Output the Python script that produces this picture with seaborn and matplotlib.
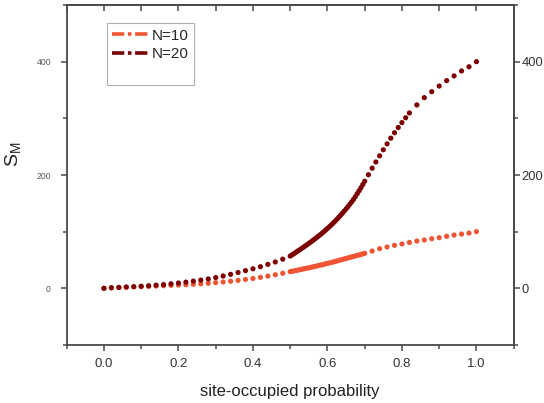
import numpy as np
import pandas as pd
import seaborn as sns
import matplotlib
matplotlib.use("Agg")
import matplotlib.pyplot as plt
from matplotlib.lines import Line2D
from matplotlib.ticker import MultipleLocator, FormatStrFormatter

# ---- data -------------------------------------------------------------
# probability grid: coarse steps, with finer sampling around the transition
p_coarse_low = np.linspace(0.0, 0.5, 26)          # 0.00 .. 0.50, step 0.02
p_fine = np.linspace(0.505, 0.70, 40)             # 0.505 .. 0.700, step 0.005
p10_high = np.linspace(0.72, 1.0, 15)             # 0.72 .. 1.00, step 0.02
p20_mid = np.linspace(0.71, 0.82, 12)             # 0.71 .. 0.82, step 0.01
p20_high = np.linspace(0.84, 1.0, 9)              # 0.84 .. 1.00, step 0.02

s10_low = [0, 1.0, 1.5, 2.0, 2.5, 3.0, 3.5, 4.0, 4.6, 5.2, 5.8, 6.4, 7.2,
           8.0, 8.9, 10.0, 11.2, 12.5, 14.0, 15.6, 17.4, 19.4, 21.6, 24.0,
           26.6, 29.4]
s10_fine = [30.0, 30.7, 31.4, 32.1, 32.8, 33.5, 34.2, 34.9, 35.6, 36.3,
            37.0, 37.7, 38.4, 39.2, 40.0, 40.8, 41.6, 42.4, 43.2, 44.0,
            44.8, 45.6, 46.4, 47.3, 48.2, 49.1, 50.0, 50.9, 51.8, 52.7,
            53.6, 54.5, 55.4, 56.3, 57.2, 58.1, 59.0, 59.9, 60.8, 61.7]
s10_high = [65.8, 70.0, 73.0, 75.9, 78.3, 81.0, 83.5, 85.3, 87.6, 89.4,
            91.8, 94.0, 95.8, 97.5, 100.0]

s20_low = [0, 1.0, 1.6, 2.3, 3.0, 3.8, 4.6, 5.6, 6.7, 8.0, 9.4, 11.0, 12.8,
           14.6, 16.6, 19.0, 21.8, 24.7, 28.0, 31.2, 34.5, 38.2, 42.2, 46.5,
           51.5, 57.0]
s20_fine = [59.1, 61.2, 63.4, 65.6, 67.8, 70.0, 72.3, 74.6, 76.9, 79.3,
            81.7, 84.1, 86.6, 89.1, 91.7, 94.3, 97.0, 99.8, 102.7, 105.6,
            108.6, 111.7, 114.9, 118.2, 121.6, 125.1, 128.7, 132.4, 136.2,
            140.1, 144.1, 148.3, 152.6, 157.0, 161.8, 167.0, 172.2, 177.6,
            183.2, 189.0]
s20_mid = [200.5, 212.0, 223.0, 233.8, 244.5, 255.0, 265.0, 274.6, 283.8,
           292.5, 301.0, 309.5]
s20_high = [323.6, 336.5, 347.0, 357.0, 366.5, 374.8, 383.6, 391.0, 400.0]

series_labels = ["N=10", "N=20"]
series_colors = ["#ef5535", "#7d0000"]

df = pd.concat([
    pd.DataFrame({"p": np.concatenate([p_coarse_low, p_fine, p10_high]),
                  "S": s10_low + s10_fine + s10_high, "N": series_labels[0]}),
    pd.DataFrame({"p": np.concatenate([p_coarse_low, p_fine, p20_mid, p20_high]),
                  "S": s20_low + s20_fine + s20_mid + s20_high, "N": series_labels[1]}),
], ignore_index=True)

# ---- style ------------------------------------------------------------
sns.set_theme(style="white")
plt.rcParams["font.family"] = ["Liberation Sans", "DejaVu Sans"]
plt.rcParams["mathtext.default"] = "regular"

spine_col = "#4a4a4a"

fig = plt.figure(figsize=(5.44, 4.03), dpi=100)
ax = fig.add_axes([0.1226, 0.1439, 0.8217, 0.8437])

sns.scatterplot(data=df, x="p", y="S", hue="N", palette=series_colors,
                s=14, linewidth=0, ax=ax, legend=False, zorder=3)

ax.set_xlim(-0.1, 1.1)
ax.set_ylim(-100, 500)

for sp in ax.spines.values():
    sp.set_color(spine_col)
    sp.set_linewidth(1.3)

ax.xaxis.set_major_locator(MultipleLocator(0.2))
ax.xaxis.set_minor_locator(MultipleLocator(0.1))
ax.yaxis.set_major_locator(MultipleLocator(200))
ax.yaxis.set_minor_locator(MultipleLocator(100))

ax.tick_params(axis="x", which="both", direction="out", bottom=True, top=False,
               color=spine_col, width=1.1, labelsize=9.5, labelcolor="#333333")
ax.tick_params(axis="x", which="major", length=4, pad=5)
ax.tick_params(axis="x", which="minor", length=3)
ax.tick_params(axis="y", which="both", direction="out", left=True, right=False,
               color=spine_col, width=1.1, labelsize=6.2, labelcolor="#555555")
ax.tick_params(axis="y", which="major", length=4.3, pad=7)
ax.tick_params(axis="y", which="minor", length=3)
ax.xaxis.set_major_formatter(FormatStrFormatter("%.1f"))

# top axis: inward ticks every 0.1, no labels
top = ax.secondary_xaxis("top")
top.xaxis.set_major_locator(MultipleLocator(0.1))
top.tick_params(direction="in", length=4, width=1.1, color=spine_col,
                labeltop=False)
top.spines["top"].set_color(spine_col)
top.spines["top"].set_linewidth(1.3)

# right axis: outward ticks with larger labels
right = ax.secondary_yaxis("right")
right.yaxis.set_major_locator(MultipleLocator(200))
right.yaxis.set_minor_locator(MultipleLocator(100))
right.tick_params(which="both", direction="out", color=spine_col, width=1.1,
                  labelsize=9.3, labelcolor="#333333")
right.tick_params(which="major", length=4.3, pad=1.2)
right.tick_params(which="minor", length=3)
right.spines["right"].set_color(spine_col)
right.spines["right"].set_linewidth(1.3)

ax.set_xlabel("site-occupied probability", fontsize=12, color="#222222")
ax.xaxis.set_label_coords(0.5, -0.115)
ax.set_ylabel("$S_M$", fontsize=14, color="#222222")
ax.yaxis.set_label_coords(-0.098, 0.56)

handles = [Line2D([], [], color=c, lw=2.6, dashes=(3.4, 1.0, 1.0, 1.0))
           for c in series_colors]
handles.append(Line2D([], [], color="none", lw=0))
leg = ax.legend(handles, series_labels + [" "], loc="upper left",
                bbox_to_anchor=(0.09, 0.946), fontsize=11, frameon=True,
                fancybox=False, shadow=False, handlelength=2.4,
                handletextpad=0.2, labelspacing=0.3, borderpad=0.35,
                borderaxespad=0.0)
leg.get_frame().set_edgecolor("#9a9a9a")
leg.get_frame().set_linewidth(0.8)

fig.savefig("out.png", dpi=100)
